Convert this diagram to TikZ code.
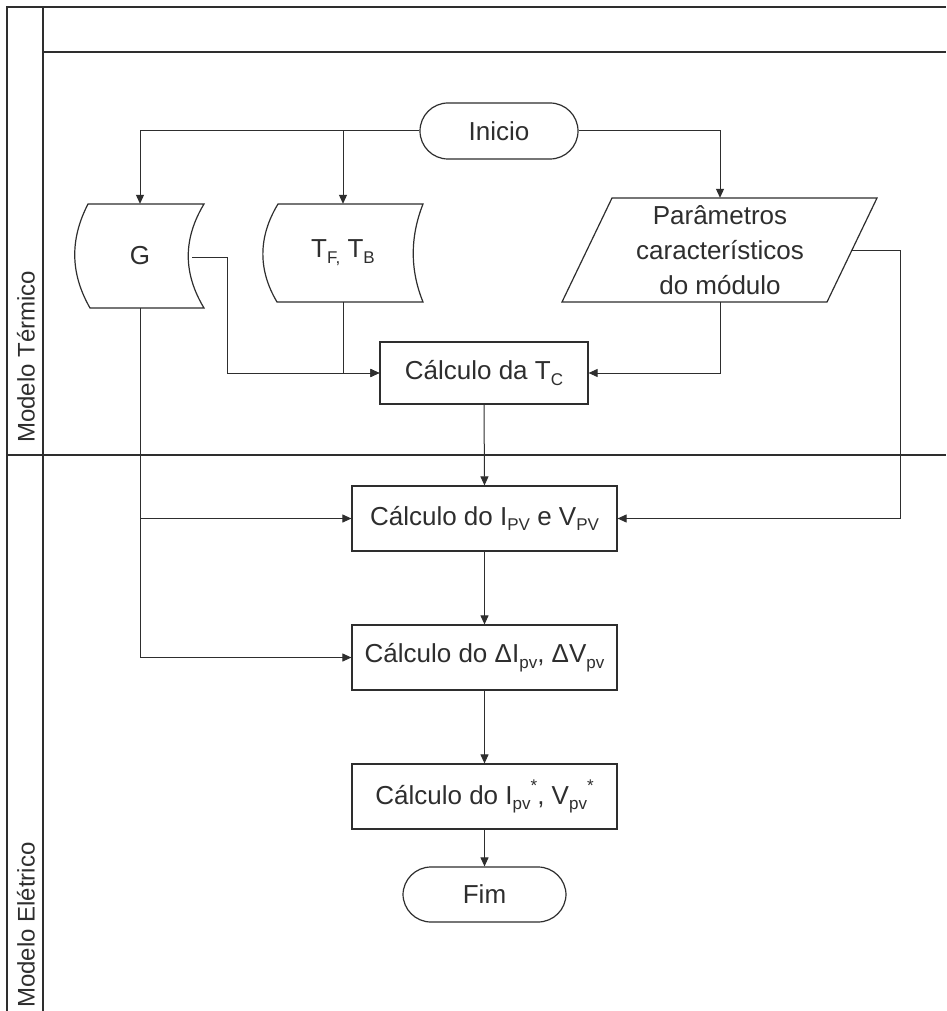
\documentclass[tikz,border=0pt]{standalone}
\usepackage{fontspec}
\setmainfont{Liberation Sans}
\usetikzlibrary{arrows.meta}
\definecolor{ink}{HTML}{2E2E2E}
\newcommand{\lsub}[1]{\raisebox{-0.22em}{\fontsize{17}{17}\selectfont #1}}
\newcommand{\lsup}[1]{\raisebox{0.5em}{\fontsize{17}{17}\selectfont #1}}
\begin{document}
\begin{tikzpicture}[x=1pt,y=-1pt,
  every node/.style={font=\fontsize{26}{35}\selectfont, text=ink},
  frame/.style={draw=ink, line width=1.8pt},
  shapeline/.style={draw=ink, line width=1.2pt},
  procbox/.style={shapeline, rectangle, minimum width=265pt, minimum height=65pt, inner sep=0pt},
  terminal/.style={shapeline, rectangle, rounded corners=28pt, minimum height=56pt, inner sep=0pt},
  textonly/.style={rectangle, inner sep=0pt, align=center},
  conn/.style={draw=ink, line width=1pt, -{Triangle[length=9pt,width=8pt]}},
  lanelabel/.style={rotate=90, anchor=west, inner sep=0pt, font=\fontsize{24}{28}\selectfont}
]
\useasboundingbox (0,0) rectangle (946,1011);
\fill[white] (0,0) rectangle (946,1011);

% frame / swimlanes
\draw[frame] (7,1011) -- (7,7) -- (946,7);
\draw[frame] (43,7) -- (43,1011);
\draw[frame] (43,52) -- (946,52);
\draw[frame] (7,455) -- (946,455);
\node[lanelabel] (laneT) at (26,443) {Modelo Térmico};
\node[lanelabel] (laneE) at (26,1008) {Modelo Elétrico};

% start
\node[terminal, minimum width=158pt] (inicio) at (499,131) {Inicio};

% G stored data
\draw[shapeline] (88,204) -- (204,204) .. controls (183,239) and (183,273) .. (204,308)
  -- (90,308) .. controls (70,273) and (70,239) .. (88,204) -- cycle;
\node[textonly, minimum width=129pt, minimum height=104pt] (g) at (140,256) {G};
\coordinate (gR) at (192,257);

% TF, TB stored data
\draw[shapeline] (278,204) -- (423,204) .. controls (410,237) and (410,270) .. (423,302)
  -- (277,302) .. controls (258,270) and (258,237) .. (278,204) -- cycle;
\node[textonly, minimum width=150pt, minimum height=98pt] (tf) at (343,253) {T\lsub{F,} T\lsub{B}};

% parameters (parallelogram)
\draw[shapeline] (612,198) -- (877,198) -- (827,302) -- (562,302) -- cycle;
\node[textonly, minimum width=265pt, minimum height=104pt] (par) at (720,250)
  {Parâmetros\\característicos\\do módulo};
\coordinate (parR) at (852,250);

% process boxes
\node[procbox, minimum width=208pt, minimum height=62pt] (tc) at (484,373) {Cálculo da T\lsub{C}};
\node[procbox] (ipv) at (484.5,518.5) {Cálculo do I\lsub{PV} e V\lsub{PV}};
\node[procbox] (di) at (484.5,657.5) {Cálculo do ΔI\lsub{pv}, ΔV\lsub{pv}};
\node[procbox] (star) at (484.5,796.5) {Cálculo do I\lsub{pv}\lsup{*}, V\lsub{pv}\lsup{*}};
\node[terminal, minimum width=163pt, minimum height=55pt] (fim) at (484.5,894.5) {Fim};

% connectors
\draw[conn] (inicio.west) -| (g.north);
\draw[conn] (inicio.west) -| (tf.north);
\draw[conn] (inicio.east) -| (par.north);
\draw[conn] (gR) -- ++(35,0) |- (tc.west);
\draw[conn] (tf.south) |- (tc.west);
\draw[conn] (par.south) |- (tc.east);
\draw[conn] (parR) -- ++(48,0) |- (ipv.east);
\draw[conn] (tc.south) -- (ipv.north);
\draw[conn] (g.south) |- (ipv.west);
\draw[conn] (g.south) |- (di.west);
\draw[conn] (ipv.south) -- (di.north);
\draw[conn] (di.south) -- (star.north);
\draw[conn] (star.south) -- (fim.north);
\end{tikzpicture}
\end{document}
